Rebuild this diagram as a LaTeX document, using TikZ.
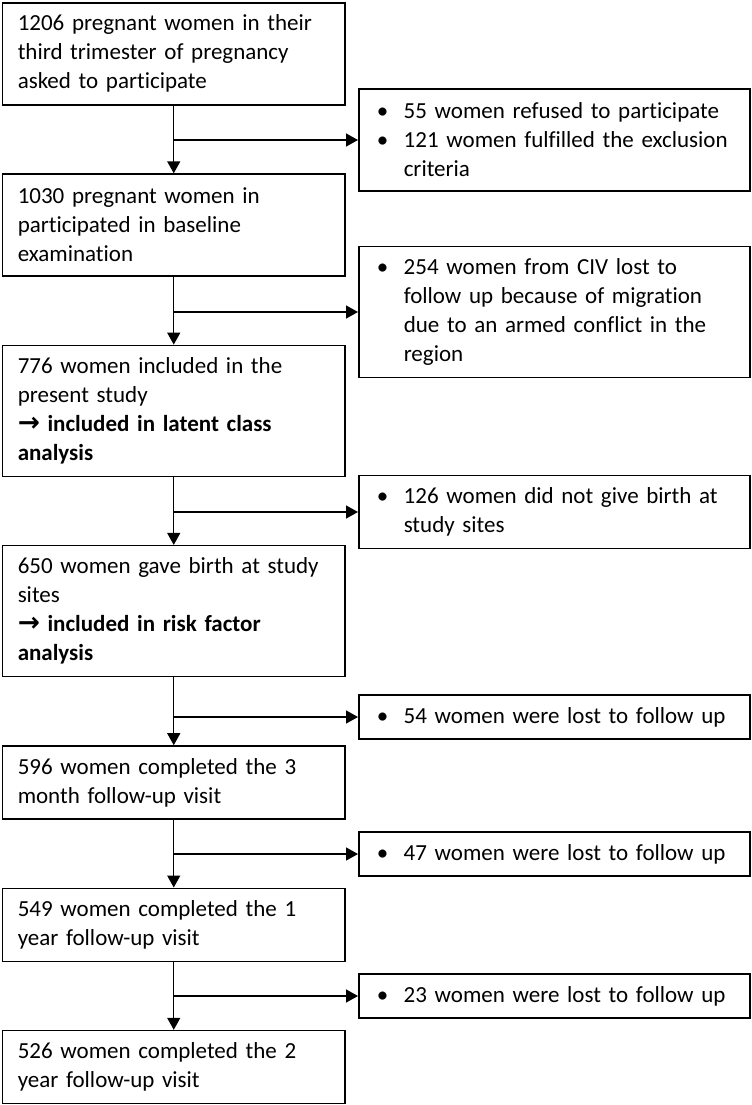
\documentclass[tikz,border=0pt]{standalone}
\usepackage{fontspec}
\setmainfont{Carlito}[Ligatures=NoCommon]
\newfontfamily\arrowfont[Scale=1.15]{DejaVu Sans}
\usepackage{tikz}
\usetikzlibrary{arrows.meta,positioning}
\newcommand{\bul}{\hspace*{1.5pt}\makebox[13.5pt][l]{\textbullet}}
\newcommand{\cont}{\hspace*{15pt}}

\begin{document}
\begin{tikzpicture}[
  x=0.5pt,y=-0.5pt,
  node distance=33.9pt,
  stage/.style={draw,rectangle,minimum width=171pt,text width=156pt,inner xsep=7.5pt,inner ysep=0pt,align=left,line width=0.75pt,font=\fontsize{11.5pt}{14.5pt}\selectfont},
  excluded/.style={stage,minimum width=195.5pt,text width=180.5pt},
  arr/.style={-{Triangle[length=6pt,width=6.5pt]},line width=0.7pt}
]
\useasboundingbox (0,0) rectangle (751,1105);

% Main flow
\node[stage,minimum height=51pt,anchor=north west] (asked) at (2,2) {1206 pregnant women in their\\third trimester of pregnancy\\asked to participate};
\node[stage,minimum height=51pt,below=of asked] (baseline) {1030 pregnant women in\\participated in baseline\\examination};
\node[stage,minimum height=65.5pt,below=of baseline] (study) {776 women included in the\\present study\\\textbf{{\arrowfont →} included in latent class}\\\textbf{analysis}};
\node[stage,minimum height=65.5pt,below=of study] (birth) {650 women gave birth at study\\sites\\\textbf{{\arrowfont →} included in risk factor}\\\textbf{analysis}};
\node[stage,minimum height=36.5pt,below=of birth] (visit3m) {596 women completed the 3\\month follow-up visit};
\node[stage,minimum height=36.5pt,below=of visit3m] (visit1y) {549 women completed the 1\\year follow-up visit};
\node[stage,minimum height=36.5pt,below=of visit1y] (visit2y) {526 women completed the 2\\year follow-up visit};

% Excluded women
\node[excluded,minimum height=51pt,anchor=west] (refused) at (358,140) {\bul 55 women refused to participate\\\bul 121 women fulfilled the exclusion\\\cont criteria};
\node[excluded,minimum height=65.5pt,anchor=west] (migrated) at (358,312) {\bul 254 women from CIV lost to\\\cont follow up because of migration\\\cont due to an armed conflict in the\\\cont region};
\node[excluded,minimum height=36.5pt,anchor=west] (nobirth) at (358,512) {\bul 126 women did not give birth at\\\cont study sites};
\node[excluded,minimum height=22pt,anchor=west] (lost3m) at (358,717) {\bul 54 women were lost to follow up};
\node[excluded,minimum height=22pt,anchor=west] (lost1y) at (358,854) {\bul 47 women were lost to follow up};
\node[excluded,minimum height=22pt,anchor=west] (lost2y) at (358,996) {\bul 23 women were lost to follow up};

% Arrows
\draw[arr] (asked) -- (baseline);
\draw[arr] (asked.south |- refused.west) -- (refused);
\draw[arr] (baseline) -- (study);
\draw[arr] (baseline.south |- migrated.west) -- (migrated);
\draw[arr] (study) -- (birth);
\draw[arr] (study.south |- nobirth.west) -- (nobirth);
\draw[arr] (birth) -- (visit3m);
\draw[arr] (birth.south |- lost3m.west) -- (lost3m);
\draw[arr] (visit3m) -- (visit1y);
\draw[arr] (visit3m.south |- lost1y.west) -- (lost1y);
\draw[arr] (visit1y) -- (visit2y);
\draw[arr] (visit1y.south |- lost2y.west) -- (lost2y);

\end{tikzpicture}
\end{document}
